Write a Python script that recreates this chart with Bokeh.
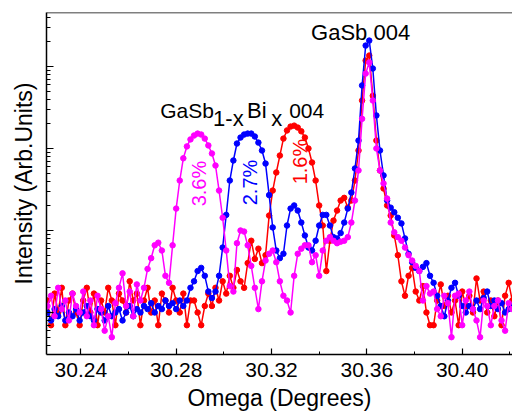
import numpy as np
from bokeh.plotting import figure
from bokeh.models import (Range1d, SingleIntervalTicker, PrintfTickFormatter, Span,
                          ColumnDataSource, LogTicker, CustomJSTickFormatter)
from bokeh.core.properties import value
from bokeh.embed import file_html
from bokeh.resources import INLINE

# ---- data (omega scan, step 0.0015 deg) ----
OMEGA_START = 30.226
OMEGA_STEP = 0.0015

red_counts = [14, 7, 17, 10, 20, 7, 14, 17, 10, 7, 14, 20, 10, 17, 7, 14, 10, 20, 14, 7,
              17, 14, 10, 24, 14, 17, 7, 14, 20, 10, 14, 7, 17, 14, 10, 20, 14, 10, 17, 7,
              14,
              14, 10, 7, 12, 17, 12, 20, 14, 24, 17, 28, 20, 33, 24, 20, 40, 75, 45, 60, 40,
              50, 152, 307, 510, 820, 1320, 1660, 1850, 1900, 1800, 1620, 1360, 1000, 675, 407,
              202, 115, 32, 75, 132, 175, 232, 250, 190, 232, 407, 945, 3850, 11800, 13600,
              4400, 1250, 540, 325, 202, 152, 87, 50, 24, 16, 28, 35, 18, 14, 21,
              10, 7, 7, 14, 22, 12, 16, 10, 14, 7, 18, 12, 16, 10, 26, 14, 18, 10, 14, 9,
              14, 7, 16, 23, 14]

blue_counts = [10, 8, 11, 9, 12, 8, 10, 9, 11, 8, 10, 12, 9, 8, 11, 10, 8, 12, 9, 10,
               11, 8, 10, 12, 9, 11, 10, 12, 11, 13, 10, 12, 11, 14, 12, 13, 11, 14, 12,
               14, 20, 24, 32, 35, 28, 18, 15, 18, 28,
               62, 155, 407, 714, 1150, 1360, 1480, 1520, 1520, 1400,
               1180, 945, 655, 270, 109, 57, 46, 52, 115, 185,
               202, 175, 125, 87, 62, 57, 75, 115, 155, 155,
               115, 83, 80, 93, 125, 185, 290, 570, 1250, 5870,
               18000, 20700, 9450, 2530, 945, 470, 232, 190, 167, 143,
               122, 80, 52, 41, 35, 32, 36, 40, 28, 23,
               16, 12, 9, 14, 20, 23, 16, 12, 10, 12,
               11, 14, 11, 15, 18, 12, 14, 11, 13, 10,
               11, 12]

magenta_counts = [12, 16, 9, 20, 11, 14, 8, 17, 12, 10, 18, 9, 14, 7, 16, 11, 6, 9, 5, 13,
                  20, 30, 12, 18, 9, 22, 14, 20,
                  34, 46, 66, 71, 57, 28, 23, 66, 185, 407,
                  760, 1060, 1290, 1440, 1520, 1480, 1320, 1090, 870, 620,
                  307, 143, 57, 21, 18, 70, 100, 97, 66, 37,
                  20, 11, 24, 43, 52, 57, 41, 24, 16, 14,
                  10, 28, 52, 60, 66, 66, 41, 50, 28, 57,
                  75, 83, 75, 70, 73, 75, 83, 125, 232, 540,
                  2300, 8200, 11200, 3850, 1000, 540, 375, 245, 125, 95,
                  83, 75, 62, 50, 43, 37, 32, 14, 21, 17,
                  18, 11, 9, 16, 13, 5, 16, 17, 7, 14,
                  18, 11, 8, 5, 14, 12, 7, 12, 14, 8,
                  6, 13, 11]

omega = [round(OMEGA_START + OMEGA_STEP * i, 4) for i in range(len(red_counts))]

# annotations
pct_labels = ["3.6%", "2.7%", "1.6%"]
pct_x = [30.2896, 30.3108, 30.3320]
pct_y = [374, 385, 693]
pct_colors = ["#FF00FF", "#0000FF", "#FF0000"]

alloy_parts = ["GaSb", "1-x", "Bi", "x", "004"]
alloy_x = [30.2733, 30.2955, 30.3097, 30.3199, 30.3274]
alloy_y = [2906, 2323, 2906, 2323, 2906]
alloy_sizes = ["21px", "22px", "22px", "22px", "21px"]

sub_label = "GaSb 004"
sub_x = 30.3366
sub_y = 26000

FONT = "Liberation Sans"
Y_TOP = 45550

src = ColumnDataSource(dict(omega=omega, red=red_counts, blue=blue_counts, mag=magenta_counts))

p = figure(frame_width=466, frame_height=342, y_axis_type="log",
           x_range=Range1d(30.2256, 30.4211), y_range=Range1d(3.074, Y_TOP),
           output_backend="svg", toolbar_location=None,
           min_border_left=46, min_border_right=0, min_border_top=12, min_border_bottom=0)
p.outline_line_color = None
p.grid.visible = False
p.background_fill_color = "white"

for col, c in [("red", "#FF0000"), ("blue", "#0000FF"), ("mag", "#FF00FF")]:
    p.line("omega", col, source=src, color=c, line_width=1.5)
    p.scatter("omega", col, source=src, color=c, size=5.5)

p.add_layout(Span(location=Y_TOP, dimension="width", line_color="black", line_width=1.5))

# x axis
xa = p.xaxis[0]
xa.ticker = SingleIntervalTicker(interval=0.04, num_minor_ticks=2)
xa.formatter = PrintfTickFormatter(format="%.2f")
xa.axis_label = "Omega (Degrees)"
xa.axis_line_width = 1.5
xa.major_tick_in = 6
xa.major_tick_out = 0
xa.minor_tick_in = 3
xa.minor_tick_out = 0
xa.major_tick_line_width = 1.2
xa.major_label_text_font = FONT
xa.major_label_text_font_size = "21px"
xa.major_label_text_color = "black"
xa.major_label_standoff = 8
xa.axis_label_text_font = FONT
xa.axis_label_text_font_size = "23px"
xa.axis_label_text_font_style = "normal"
xa.axis_label_text_color = "black"
xa.axis_label_standoff = 5

# y axis (no tick labels)
ya = p.yaxis[0]
ya.ticker = LogTicker(num_minor_ticks=10)
ya.formatter = CustomJSTickFormatter(code="return '';")
ya.axis_label = "Intensity (Arb.Units)"
ya.axis_line_width = 1.5
ya.major_tick_in = 7
ya.major_tick_out = 0
ya.minor_tick_in = 4
ya.minor_tick_out = 0
ya.major_tick_line_width = 1.2
ya.major_label_text_font_size = "10px"
ya.major_label_standoff = 0
ya.axis_label_text_font = FONT
ya.axis_label_text_font_size = "23px"
ya.axis_label_text_font_style = "normal"
ya.axis_label_text_color = "black"
ya.axis_label_standoff = 10

# annotations
p.text(x=pct_x, y=pct_y, text=pct_labels, text_color=pct_colors, angle=np.pi / 2,
       text_align="center", text_baseline="middle", text_font=value(FONT),
       text_font_size="20px")
p.text(x=alloy_x, y=alloy_y, text=alloy_parts, text_color="black",
       text_align="left", text_baseline="alphabetic", text_font=value(FONT),
       text_font_size=alloy_sizes)
p.text(x=[sub_x], y=[sub_y], text=[sub_label], text_color="black",
       text_align="left", text_baseline="alphabetic", text_font=value(FONT),
       text_font_size="22px")

open("out.html", "w").write(file_html(p, INLINE))
